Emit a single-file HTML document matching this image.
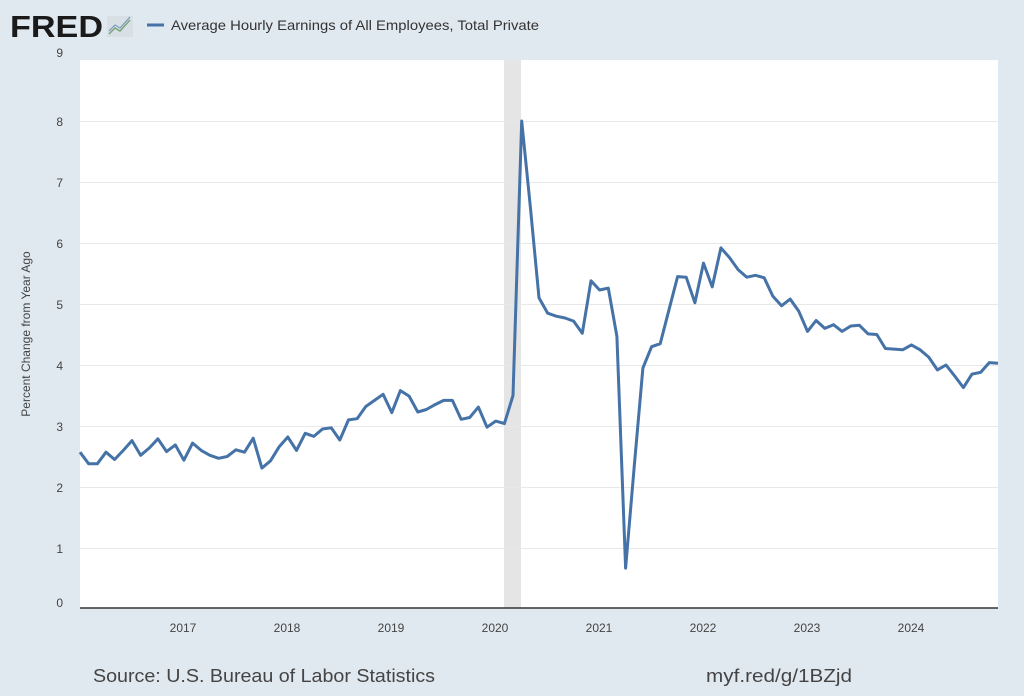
<!DOCTYPE html>
<html><head><meta charset="utf-8"><style>
body{margin:0;width:1024px;height:691px;background:#e1e9f0;overflow:hidden;font-family:"Liberation Sans",sans-serif}
</style></head><body>
<svg width="1024" height="691" viewBox="0 0 1024 691" xmlns="http://www.w3.org/2000/svg" font-family="Liberation Sans, sans-serif">
<rect width="1024" height="691" fill="#e1e9f0"/>
<text x="10" y="37" font-size="31" font-weight="bold" fill="#1a1a1a" textLength="93" lengthAdjust="spacingAndGlyphs">FRED</text>
<rect x="107" y="16" width="26" height="21" fill="#d8e0e6"/>
<polyline points="109,34 115,28 120,31 130,20" fill="none" stroke="#7aa67a" stroke-width="1.5"/>
<polyline points="109,31 115,25 120,28 130,17" fill="none" stroke="#6b8fb5" stroke-width="1"/>
<line x1="147" y1="25" x2="164" y2="25" stroke="#4572a7" stroke-width="3"/>
<text x="171" y="30" font-size="14" fill="#333" textLength="368" lengthAdjust="spacingAndGlyphs">Average Hourly Earnings of All Employees, Total Private</text>
<rect x="80" y="60" width="918" height="548" fill="#fff"/>
<rect x="504" y="60" width="17" height="548" fill="#e5e5e5"/>
<g stroke="#e8e8e8" stroke-width="1">
<line x1="80" x2="998" y1="121.5" y2="121.5"/><line x1="80" x2="998" y1="182.5" y2="182.5"/><line x1="80" x2="998" y1="243.5" y2="243.5"/><line x1="80" x2="998" y1="304.5" y2="304.5"/><line x1="80" x2="998" y1="365.5" y2="365.5"/><line x1="80" x2="998" y1="426.5" y2="426.5"/><line x1="80" x2="998" y1="487.5" y2="487.5"/><line x1="80" x2="998" y1="548.5" y2="548.5"/>
</g>
<line x1="80" x2="998" y1="608" y2="608" stroke="#333" stroke-width="1.5"/>
<g font-size="12" fill="#444" text-anchor="end">
<text x="63" y="57">9</text><text x="63" y="126">8</text><text x="63" y="187">7</text><text x="63" y="248">6</text><text x="63" y="309">5</text><text x="63" y="370">4</text><text x="63" y="431">3</text><text x="63" y="492">2</text><text x="63" y="553">1</text><text x="63" y="607">0</text>
</g>
<g font-size="12" fill="#444" text-anchor="middle">
<text x="183" y="632">2017</text><text x="287" y="632">2018</text><text x="391" y="632">2019</text><text x="495" y="632">2020</text><text x="599" y="632">2021</text><text x="703" y="632">2022</text><text x="807" y="632">2023</text><text x="911" y="632">2024</text>
</g>
<text transform="translate(30,334) rotate(-90)" font-size="12" fill="#444" text-anchor="middle">Percent Change from Year Ago</text>
<text x="93" y="682" font-size="18" fill="#444" textLength="342" lengthAdjust="spacingAndGlyphs">Source: U.S. Bureau of Labor Statistics</text>
<text x="706" y="682" font-size="18" fill="#444" textLength="146" lengthAdjust="spacingAndGlyphs">myf.red/g/1BZjd</text>
<polyline id="l" fill="none" stroke="#4572a7" stroke-width="3" stroke-linejoin="round" points=""/>
<script>
var v=[2.57,2.38,2.38,2.57,2.45,2.6,2.76,2.52,2.64,2.79,2.58,2.69,
2.44,2.72,2.6,2.52,2.47,2.5,2.61,2.57,2.8,2.31,2.43,2.66,
2.82,2.6,2.88,2.83,2.95,2.97,2.77,3.1,3.12,3.32,3.42,3.52,
3.22,3.58,3.49,3.23,3.27,3.35,3.42,3.42,3.11,3.14,3.31,2.98,
3.08,3.04,3.5,8.0,6.6,5.1,4.85,4.8,4.77,4.72,4.52,
5.38,5.23,5.26,4.47,0.67,2.35,3.95,4.3,4.35,4.9,5.45,5.44,
5.02,5.67,5.28,5.92,5.76,5.56,5.44,5.47,5.43,5.13,4.97,5.08,
4.88,4.55,4.73,4.6,4.66,4.55,4.64,4.65,4.51,4.5,4.27,4.26,4.25,
4.33,4.25,4.13,3.92,4.0,3.82,3.63,3.85,3.88,4.04,4.03];
var p=v.map(function(a,i){return (80+i*(918/106)).toFixed(1)+","+(609-61*a).toFixed(1)}).join(" ");
document.getElementById("l").setAttribute("points",p);
</script>
</svg>
</body></html>
